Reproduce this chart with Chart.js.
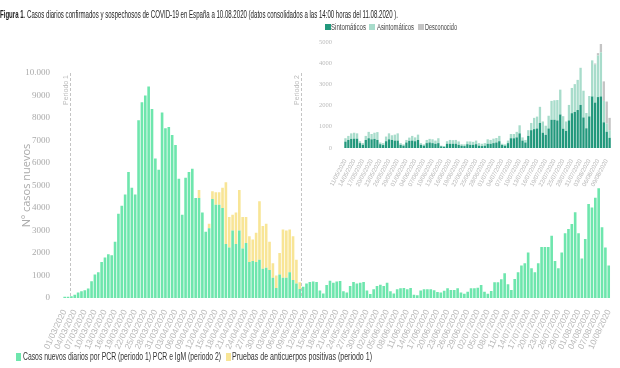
<!DOCTYPE html>
<html>
<head>
<meta charset="utf-8">
<script src="https://cdn.jsdelivr.net/npm/chart.js@4"></script>
<style>
    body { margin: 0; background: #fff; }
    #wrap { position: relative; width: 620px; height: 368px; overflow: hidden; font-family: "Liberation Sans Narrow", "Liberation Sans", sans-serif; }
    #wrap canvas { position: absolute; }
    .txt { position: absolute; white-space: nowrap; transform-origin: 0 50%; line-height: 1; }
    .box { position: absolute; }
</style>
</head>
<body>
<div id="wrap">
    <canvas id="mainChart" width="620" height="368" style="left:0;top:0"></canvas>
    <canvas id="insetChart" width="318" height="172" style="left:300px;top:34px"></canvas>

    <div class="txt" data-w="398" style="left:0;top:9px;font-size:11px;color:#222"><b>Figura 1</b>. Casos diarios confirmados y sospechosos de COVID-19 en España a 10.08.2020 (datos consolidados a las 14:00 horas del 11.08.2020 ).</div>

    <div class="box" style="left:325px;top:24px;width:6px;height:6px;background:#22987c"></div>
    <div class="txt" data-w="35" style="left:331px;top:23px;font-size:8.5px;color:#444">Sintomáticos</div>
    <div class="box" style="left:369px;top:24px;width:6px;height:6px;background:#a8dccb"></div>
    <div class="txt" data-w="37" style="left:377px;top:23px;font-size:8.5px;color:#444">Asintomáticos</div>
    <div class="box" style="left:418px;top:24px;width:6px;height:6px;background:#c4c4c4"></div>
    <div class="txt" data-w="32" style="left:425px;top:23px;font-size:8.5px;color:#444">Desconocido</div>

    <div class="box" style="left:16px;top:353px;width:5px;height:8px;background:#6ee6ad"></div>
    <div class="txt" data-w="198" style="left:23px;top:352px;font-size:10px;color:#333">Casos nuevos diarios por PCR (periodo 1) PCR e IgM (periodo 2)</div>
    <div class="box" style="left:226px;top:353px;width:5px;height:8px;background:#f8e596"></div>
    <div class="txt" data-w="140" style="left:232px;top:352px;font-size:10px;color:#333">Pruebas de anticuerpos positivas (periodo 1)</div>
</div>

<script>
// ===== DATA =====
// casos diarios por PCR (periodo 1) / PCR e IgM (periodo 2), desde 01/03/2020
const pcrCases = [
    60, 60, 80, 150, 250, 300, 350, 420, 750, 1050,
    1150, 1600, 1800, 1950, 1900, 2500, 3750, 4100, 4600, 5600,
    4900, 4600, 7900, 8700, 9000, 9400, 8400, 6200, 5700, 8250,
    7550, 7600, 7250, 6800, 5300, 3700, 5350, 5600, 5750, 4450,
    4450, 3800, 2950, 3100, 4400, 4150, 4150, 4000, 2400, 2250,
    3000, 2400, 3000, 2200, 2450, 1600, 1650, 1600, 1700, 1300,
    1350, 1250, 900, 450, 1050, 900, 900, 1150, 800, 650,
    400, 500, 650, 710, 730, 710, 330, 200, 580, 770,
    680, 730, 760, 300, 240, 530, 710, 650, 680, 710,
    330, 180, 390, 530, 590, 530, 680, 300, 200, 390,
    430, 445, 390, 445, 150, 120, 330, 390, 390, 390,
    350, 270, 240, 320, 430, 360, 360, 430, 250, 190,
    280, 430, 430, 460, 580, 280, 190, 310, 700, 700,
    830, 1100, 610, 360, 850, 1140, 1440, 1540, 2020, 1320,
    1140, 1540, 2270, 2270, 2270, 2770, 1650, 1320, 2020, 2880,
    3070, 3290, 3810, 2880, 1760, 2620, 4180, 4020, 4460, 4880,
    3140, 2240, 1440
];

// pruebas de anticuerpos positivas (solo periodo 1)
const antibodyCases = [
    0, 0, 0, 0, 0, 0, 0, 0, 0, 0,
    0, 0, 0, 0, 0, 0, 0, 0, 0, 0,
    0, 0, 0, 0, 0, 0, 0, 0, 0, 0,
    0, 0, 0, 0, 0, 0, 0, 0, 0, 0,
    350, 0, 0, 200, 350, 550, 550, 900, 2750, 1350,
    700, 1400, 1800, 1400, 1150, 1150, 950, 1300, 2600, 1900,
    1950, 1250, 650, 550, 950, 2150, 2100, 1900, 1950, 1050,
    300
];

// grafico pequeño, desde 11/05/2020
const symptomatic = [
    300, 380, 430, 440, 440, 230, 150, 380, 460, 410,
    430, 380, 180, 140, 320, 410, 380, 350, 350, 150,
    110, 260, 340, 350, 320, 380, 150, 110, 230, 260,
    230, 200, 230, 80, 60, 200, 200, 200, 200, 150,
    110, 90, 180, 150, 150, 180, 110, 90, 110, 200,
    200, 230, 260, 320, 140, 110, 230, 460, 460, 500,
    690, 350, 260, 570, 840, 890, 920, 1180, 720, 620,
    920, 1330, 1330, 1300, 1580, 910, 800, 1300, 1640, 1700,
    1790, 2030, 1440, 930, 1490, 2430, 2140, 2400, 2430, 1210,
    765, 480
];

const asymptomatic = [
    160, 190, 260, 280, 250, 90, 80, 190, 300, 250,
    290, 370, 80, 90, 220, 280, 220, 280, 340, 80,
    60, 120, 150, 220, 180, 250, 80, 60, 150, 170,
    180, 150, 230, 30, 30, 120, 180, 170, 180, 160,
    70, 80, 130, 160, 140, 170, 120, 110, 120, 210,
    180, 210, 210, 250, 60, 60, 120, 200, 200, 260,
    380, 150, 120, 270, 340, 530, 560, 760, 530, 430,
    600, 890, 920, 960, 1170, 590, 450, 730, 1190, 1310,
    1420, 1750, 1260, 720, 960, 1700, 1790, 1960, 2080, 1010,
    385, 360
];

const unknown = [
    0, 0, 0, 0, 0, 0, 0, 0, 0, 0,
    0, 0, 0, 0, 0, 0, 0, 0, 0, 0,
    0, 0, 0, 0, 0, 0, 0, 0, 0, 0,
    0, 0, 0, 0, 0, 0, 0, 0, 0, 0,
    0, 0, 0, 0, 0, 0, 0, 0, 0, 0,
    0, 0, 0, 0, 0, 0, 0, 0, 0, 0,
    0, 0, 0, 0, 0, 0, 0, 0, 0, 0,
    0, 0, 0, 0, 0, 0, 0, 0, 0, 0,
    0, 0, 0, 0, 0, 0, 50, 110, 390, 920,
    1040, 580
];

const periodStarts = ["03/03/2020", "11/05/2020"];
const periodNames = ["Periodo 1", "Periodo 2"];

// ===== LABELS =====
function generateDateLabels(first, count) {
    const labels = [];
    const d = new Date(first);
    for (let i = 0; i < count; i++) {
        labels.push(
            String(d.getDate()).padStart(2, "0") + "/" +
            String(d.getMonth() + 1).padStart(2, "0") + "/" +
            d.getFullYear()
        );
        d.setDate(d.getDate() + 1);
    }
    return labels;
}

const mainLabels = generateDateLabels("2020-03-01T12:00:00", pcrCases.length);
const insetLabels = mainLabels.slice(mainLabels.indexOf("11/05/2020"));

// ===== HTML TEXT FIT =====
document.querySelectorAll(".txt").forEach(el => {
    const w = el.getBoundingClientRect().width;
    el.style.transform = "scaleX(" + (parseFloat(el.dataset.w) / w) + ")";
});

// ===== PERIOD LINES =====
const periodLines = {
    id: "periodLines",
    afterDatasetsDraw(chart) {
        const { ctx, chartArea, scales: { x } } = chart;
        periodStarts.forEach((d, k) => {
            const i = mainLabels.indexOf(d);
            const px = Math.round((x.getPixelForValue(i - 1) + x.getPixelForValue(i)) / 2) + 0.5;
            ctx.save();
            ctx.strokeStyle = "#c4c4c4";
            ctx.lineWidth = 1;
            ctx.setLineDash([3, 2]);
            ctx.beginPath();
            ctx.moveTo(px, chartArea.top);
            ctx.lineTo(px, chartArea.bottom);
            ctx.stroke();
            ctx.translate(px - 1, chartArea.top + 2);
            ctx.rotate(-Math.PI / 2);
            ctx.font = "7px 'Liberation Sans'";
            ctx.fillStyle = "#bbb";
            ctx.textAlign = "right";
            ctx.textBaseline = "bottom";
            ctx.fillText(periodNames[k], 0, 0);
            ctx.restore();
        });
    }
};

// ================= MAIN CHART =================
new Chart(document.getElementById("mainChart"), {
    type: "bar",
    data: {
        labels: mainLabels,
        datasets: [
            {
                label: "Casos nuevos diarios por PCR (periodo 1) PCR e IgM (periodo 2)",
                data: pcrCases,
                backgroundColor: "#6ee6ad",
                barPercentage: 0.78,
                categoryPercentage: 1
            },
            {
                label: "Pruebas de anticuerpos positivas (periodo 1)",
                data: antibodyCases,
                backgroundColor: "#f8e596",
                barPercentage: 0.78,
                categoryPercentage: 1
            }
        ]
    },
    options: {
        responsive: false,
        animation: false,
        devicePixelRatio: 1,
        layout: { padding: { left: 20, right: 1, top: 73, bottom: 0 } },
        plugins: {
            legend: { display: false },
            tooltip: { enabled: false }
        },
        scales: {
            x: {
                stacked: true,
                grid: { display: false },
                border: { display: false },
                ticks: {
                    autoSkip: false,
                    minRotation: 65,
                    maxRotation: 65,
                    padding: 2,
                    color: "#b8b8b8",
                    font: { family: "'Liberation Sans'", size: 8.5 },
                    callback: (v, i) => i % 3 === 0 ? mainLabels[i] : ""
                },
                afterFit: s => { s.height = 70; }
            },
            y: {
                stacked: true,
                min: 0,
                max: 10000,
                grid: { display: false },
                border: { display: false },
                ticks: {
                    stepSize: 1000,
                    padding: 5,
                    color: "#aaa",
                    font: { family: "'Liberation Sans Narrow'", size: 9 },
                    callback: v => v >= 10000 ? "10.000" : String(v)
                },
                title: {
                    display: true,
                    text: "Nº casos nuevos",
                    color: "#aaa",
                    font: { family: "'Open Sans'", size: 11 },
                    padding: 0
                },
                afterFit: s => { s.width = 43; }
            }
        }
    },
    plugins: [periodLines]
});

// ================= INSET CHART =================
new Chart(document.getElementById("insetChart"), {
    type: "bar",
    data: {
        labels: insetLabels,
        datasets: [
            { label: "Sintomáticos", data: symptomatic, backgroundColor: "#22987c", barPercentage: 0.8, categoryPercentage: 1 },
            { label: "Asintomáticos", data: asymptomatic, backgroundColor: "#a8dccb", barPercentage: 0.8, categoryPercentage: 1 },
            { label: "Desconocido", data: unknown, backgroundColor: "#c4c4c4", barPercentage: 0.8, categoryPercentage: 1 }
        ]
    },
    options: {
        responsive: false,
        animation: false,
        devicePixelRatio: 1,
        layout: { padding: { left: 0, right: 6, top: 5, bottom: 0 } },
        plugins: {
            legend: { display: false },
            tooltip: { enabled: false }
        },
        scales: {
            x: {
                stacked: true,
                grid: { display: false },
                border: { display: false },
                ticks: {
                    autoSkip: false,
                    minRotation: 62,
                    maxRotation: 62,
                    padding: 2,
                    color: "#b8b8b8",
                    font: { family: "'Liberation Sans'", size: 6 },
                    callback: (v, i) => i % 3 === 0 ? insetLabels[i] : ""
                },
                afterFit: s => { s.height = 58; }
            },
            y: {
                stacked: true,
                min: 0,
                max: 5000,
                grid: { display: false },
                border: { display: false },
                ticks: {
                    stepSize: 1000,
                    padding: 4,
                    color: "#bbb",
                    font: { family: "'Liberation Sans Narrow'", size: 6.5 },
                    callback: v => String(v)
                },
                afterFit: s => { s.width = 44; }
            }
        }
    }
});
</script>
</body>
</html>
